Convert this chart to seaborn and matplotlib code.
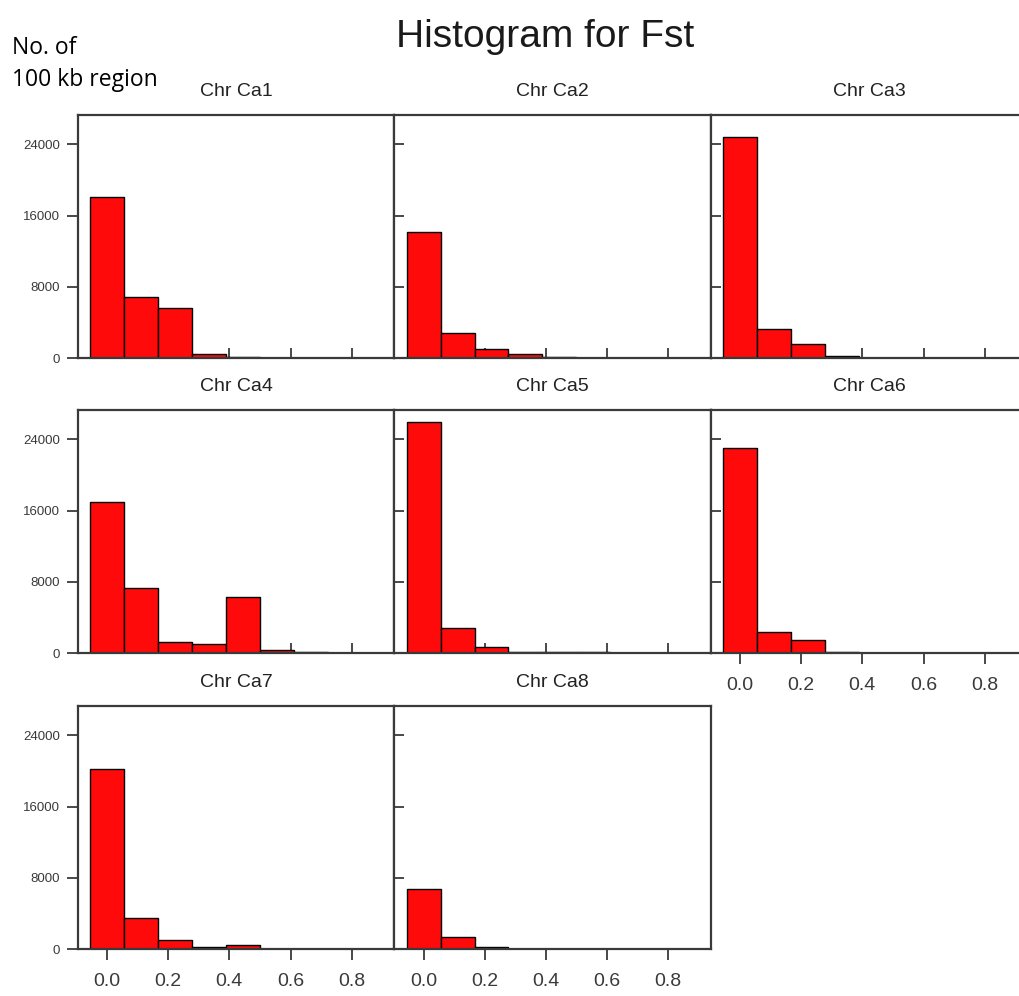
import numpy as np
import pandas as pd
import matplotlib
matplotlib.use("Agg")
import matplotlib.pyplot as plt
import seaborn as sns

# ---- data ----
chromosomes = ["Chr Ca1", "Chr Ca2", "Chr Ca3", "Chr Ca4", "Chr Ca5",
               "Chr Ca6", "Chr Ca7", "Chr Ca8"]
bin_centers = [0.0, 1/9, 2/9, 3/9, 4/9, 5/9, 6/9, 7/9, 8/9]
counts_ca1 = [18050, 6900, 5600, 420, 100, 0, 0, 0, 0]
counts_ca2 = [14100, 2800, 1050, 400, 100, 0, 0, 0, 0]
counts_ca3 = [24800, 3300, 1600, 190, 50, 0, 0, 0, 0]
counts_ca4 = [17000, 7300, 1200, 1000, 6250, 370, 100, 50, 0]
counts_ca5 = [25900, 2800, 630, 150, 150, 60, 30, 0, 0]
counts_ca6 = [23000, 2400, 1500, 120, 30, 0, 0, 0, 0]
counts_ca7 = [20200, 3500, 1050, 200, 400, 30, 0, 0, 0]
counts_ca8 = [6700, 1400, 260, 30, 0, 0, 0, 0, 0]
y_ticks = [0, 8000, 16000, 24000]
y_ticklabels = ["0", "8000", "16000", "24000"]
x_ticks = [0.0, 0.2, 0.4, 0.6, 0.8]
x_ticklabels = ["0.0", "0.2", "0.4", "0.6", "0.8"]

all_counts = [counts_ca1, counts_ca2, counts_ca3, counts_ca4,
              counts_ca5, counts_ca6, counts_ca7, counts_ca8]
df = pd.DataFrame([
    {"chr": c, "fst": x, "count": n}
    for c, vals in zip(chromosomes, all_counts)
    for x, n in zip(bin_centers, vals)
])

centers = np.array(bin_centers)
width = centers[1] - centers[0]
edges = np.append(centers - width / 2, centers[-1] + width / 2).tolist()

sns.set_style("white")
plt.rcParams["font.family"] = ["Liberation Sans", "DejaVu Sans"]

W, H = 1020, 996
fig = plt.figure(figsize=(W / 100, H / 100), dpi=100)

col_left = [78, 394.5, 711]
col_w = 316.5
row_top = [115, 410, 706]
row_h = 243

frame_col = "#3a3a3a"
text_col = "#3a3a3a"

for i, chrom in enumerate(chromosomes):
    r, c = divmod(i, 3)
    ax = fig.add_axes([col_left[c] / W, 1 - (row_top[r] + row_h) / H,
                       col_w / W, row_h / H])
    sub = df[df["chr"] == chrom]
    sns.histplot(data=sub, x="fst", weights="count", bins=edges, ax=ax,
                 color="#FF0A0A", edgecolor="black", linewidth=1.0,
                 alpha=1)
    ax.set_xlim(-0.095, 0.94)
    ax.set_ylim(0, 27300)
    ax.set_xlabel("")
    ax.set_ylabel("")
    for s in ax.spines.values():
        s.set_color(frame_col)
        s.set_linewidth(1.6)
    ax.set_yticks(y_ticks)
    ax.set_xticks(x_ticks)
    has_xlabels = chrom in ("Chr Ca6", "Chr Ca7", "Chr Ca8")
    if has_xlabels:
        ax.set_xticklabels(x_ticklabels)
        ax.tick_params(axis="x", direction="out", length=8, width=1.3,
                       color=frame_col, labelsize=14, labelcolor=text_col,
                       pad=9, bottom=True)
    else:
        ax.set_xticklabels([])
        ax.tick_params(axis="x", direction="in", length=7, width=1.3,
                       color=frame_col, bottom=True)
    if c == 0:
        ax.set_yticklabels(y_ticklabels)
        ax.tick_params(axis="y", direction="out", length=8, width=1.3,
                       color=frame_col, labelsize=9.5, labelcolor=text_col,
                       pad=5, left=True)
    else:
        ax.set_yticklabels([])
        ax.tick_params(axis="y", direction="in", length=7, width=1.3,
                       color=frame_col, left=True)
    ax.set_title(chrom, fontsize=14, color="#222222", pad=14)

fig.text(545 / W, 1 - 47 / H, "Histogram for Fst", ha="center",
         va="baseline", fontsize=28, color="#1a1a1a")
fig.text(12 / W, 1 - 54 / H, "No. of", ha="left", va="baseline",
         fontsize=16.5, family="Open Sans", color="black")
fig.text(12 / W, 1 - 86 / H, "100 kb region", ha="left", va="baseline",
         fontsize=16.5, family="Open Sans", color="black")

fig.savefig("out.png", dpi=100)
